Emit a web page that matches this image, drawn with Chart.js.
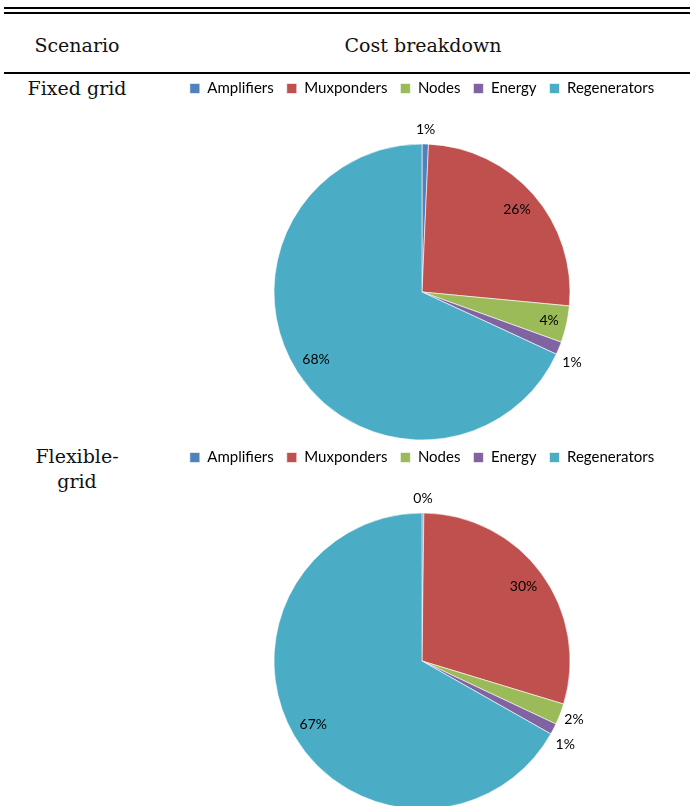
<!DOCTYPE html>
<html>
<head>
<meta charset="utf-8">
<script src="https://cdn.jsdelivr.net/npm/chart.js@4.4.1/dist/chart.umd.min.js"></script>
<style>
  html, body { margin: 0; padding: 0; background: #fff; }
  body { width: 690px; height: 806px; position: relative; overflow: hidden; }
  .rule { position: absolute; left: 4px; right: 0; background: #000; }
  .txt { position: absolute; font-family: "DejaVu Serif", serif; font-size: 19px; color: #111; text-align: center; white-space: nowrap; }
  .cv { position: absolute; }
</style>
</head>
<body>
<div class="rule" style="top:7px;height:2px"></div>
<div class="rule" style="top:12px;height:2px"></div>
<div class="rule" style="top:72px;height:2px"></div>

<div class="txt" style="left:0;width:154px;top:34px;">Scenario</div>
<div class="txt" style="left:323px;width:200px;top:34px;">Cost breakdown</div>
<div class="txt" style="left:0;width:154px;top:77px;">Fixed grid</div>
<div class="txt" style="left:0;width:154px;top:444px;line-height:25px;">Flexible-<br>grid</div>

<div class="cv" style="left:157px;top:68px;width:530px;height:410px;"><canvas id="c1"></canvas></div>
<div class="cv" style="left:157px;top:437px;width:530px;height:410px;"><canvas id="c2"></canvas></div>

<script>
const categories = ["Amplifiers", "Muxponders", "Nodes", "Energy", "Regenerators"];
const fixedGrid = [0.7, 25.8, 4.0, 1.4, 68.1];
const flexibleGrid = [0.2, 29.5, 2.3, 1.2, 66.8];
const colors = ["#4F81BD", "#C0504D", "#9BBB59", "#8064A2", "#4BACC6"];

const pctLabels = {
  id: 'pctLabels',
  afterDatasetsDraw(chart) {
    const ctx = chart.ctx;
    const ds = chart.data.datasets[0];
    const total = ds.data.reduce((a, b) => a + b, 0);
    const meta = chart.getDatasetMeta(0);
    ctx.save();
    ctx.font = '14px Lato, "Open Sans", sans-serif';
    ctx.fillStyle = '#000';
    ctx.textAlign = 'center';
    ctx.textBaseline = 'middle';
    meta.data.forEach((arc, i) => {
      const v = ds.data[i];
      const pct = Math.round(v / total * 100);
      let mid = (arc.startAngle + arc.endAngle) / 2;
      let f;
      if (v >= 10) f = 0.85;
      else if (v >= 3) f = 0.88;
      else if (v >= 2) f = 1.1;
      else {
        f = 1.1;
        if (mid > 0.1) { mid += 0.05; f = 1.12; }
      }
      const r = arc.outerRadius * f;
      const x = arc.x + Math.cos(mid) * r;
      const y = arc.y + Math.sin(mid) * r;
      ctx.fillText(pct + '%', x, y);
    });
    ctx.restore();
  }
};

function makePie(id, values) {
  return new Chart(document.getElementById(id), {
    type: 'pie',
    data: {
      labels: categories,
      datasets: [{
        data: values,
        backgroundColor: colors,
        borderColor: '#ffffff',
        borderWidth: 0.6,
        radius: 148
      }]
    },
    options: {
      responsive: true,
      maintainAspectRatio: false,
      animation: false,
      layout: { padding: { top: 0, bottom: 0 } },
      plugins: {
        legend: {
          position: 'top',
          labels: {
            boxWidth: 10,
            boxHeight: 10,
            padding: 13,
            color: '#000',
            font: { family: 'Lato, "Open Sans", sans-serif', size: 15 }
          }
        },
        tooltip: { enabled: false }
      }
    },
    plugins: [pctLabels]
  });
}

makePie('c1', fixedGrid);
makePie('c2', flexibleGrid);
</script>
</body>
</html>
